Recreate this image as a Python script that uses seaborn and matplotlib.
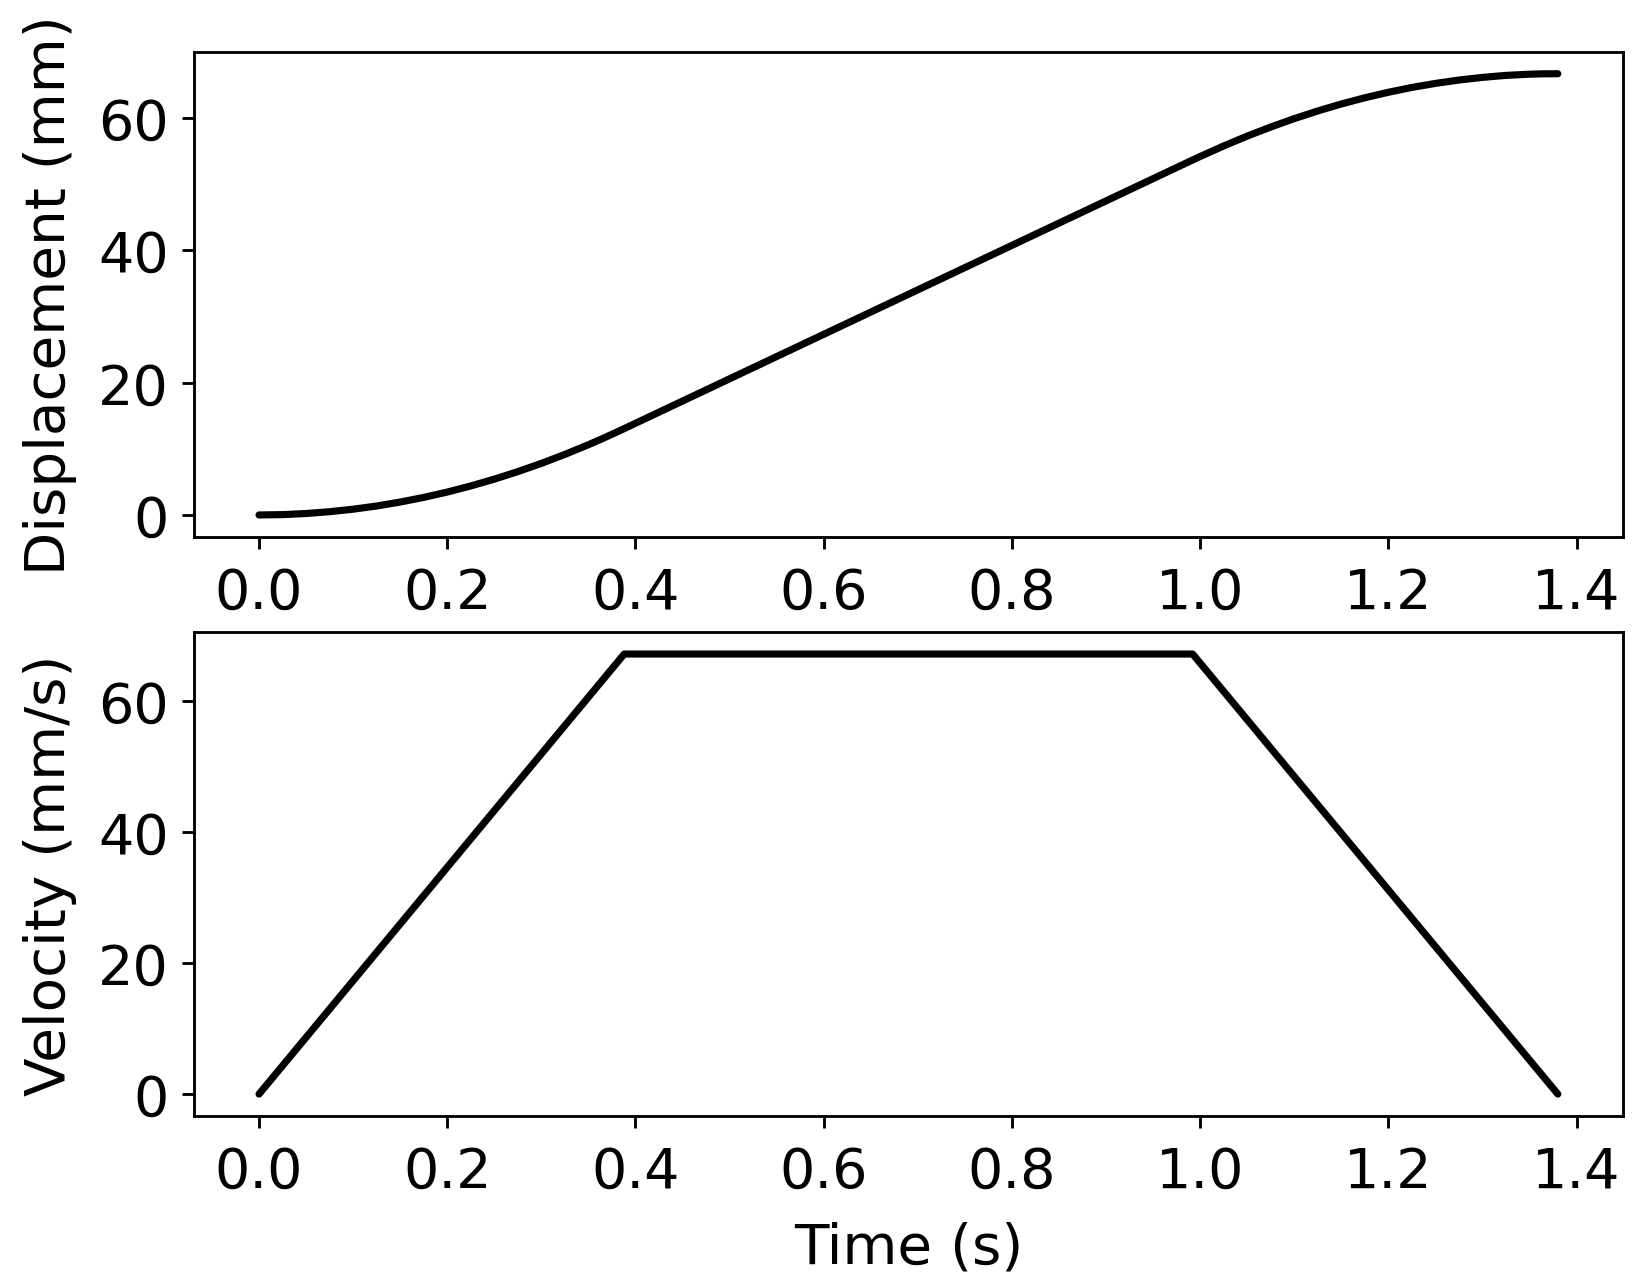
import numpy as np
import pandas as pd
import matplotlib
matplotlib.use("Agg")
import matplotlib.pyplot as plt
import seaborn as sns

# values
disp_time = [0.0, 0.025, 0.05, 0.075, 0.1, 0.125, 0.15, 0.175, 0.2, 0.225,
             0.25, 0.275, 0.3, 0.325, 0.35, 0.365, 0.388, 0.4, 0.45, 0.5,
             0.55, 0.6, 0.65, 0.7, 0.75, 0.8, 0.85, 0.9, 0.95, 0.992, 1.0,
             1.025, 1.05, 1.075, 1.1, 1.125, 1.15, 1.175, 1.2, 1.225, 1.25,
             1.275, 1.3, 1.325, 1.35, 1.365, 1.38]
displacement = [0.0, 0.05, 0.22, 0.49, 0.87, 1.35, 1.95, 2.65, 3.46, 4.38,
                5.41, 6.55, 7.79, 9.15, 10.61, 11.54, 13.04, 13.85, 17.21,
                20.57, 23.93, 27.29, 30.65, 34.01, 37.37, 40.73, 44.09, 47.45,
                50.81, 53.63, 54.16, 55.75, 57.24, 58.61, 59.88, 61.04, 62.09,
                63.03, 63.86, 64.59, 65.2, 65.71, 66.11, 66.41, 66.59, 66.65,
                66.66]

vel_time = [0.0, 0.388, 0.992, 1.38]
velocity = [0.0, 67.2, 67.2, 0.0]

x_ticks = [0.0, 0.2, 0.4, 0.6, 0.8, 1.0, 1.2, 1.4]
y_ticks = [0, 20, 40, 60]

df_disp = pd.DataFrame({"t": disp_time, "s": displacement})
df_vel = pd.DataFrame({"t": vel_time, "v": velocity})

sns.set_style("ticks")
plt.rcParams["font.family"] = ["DejaVu Sans"]
plt.rcParams["axes.edgecolor"] = "black"
plt.rcParams["axes.linewidth"] = 0.8
plt.rcParams["xtick.color"] = "black"
plt.rcParams["ytick.color"] = "black"
plt.rcParams["text.color"] = "black"
plt.rcParams["axes.labelcolor"] = "black"

fig = plt.figure(figsize=(6.4, 4.996), dpi=257)
ax1 = fig.add_axes([0.118, 0.581, 0.8686, 0.378])
ax2 = fig.add_axes([0.118, 0.130, 0.8686, 0.377])

sns.lineplot(data=df_disp, x="t", y="s", ax=ax1, color="black", linewidth=2.0)
sns.lineplot(data=df_vel, x="t", y="v", ax=ax2, color="black", linewidth=2.0)

for ax in (ax1, ax2):
    ax.set_xticks(x_ticks)
    ax.set_yticks(y_ticks)
    ax.tick_params(labelsize=15.6, length=3.5, width=0.8, color="black")
    ax.tick_params(axis="x", pad=4.5)
    for sp in ax.spines.values():
        sp.set_visible(True)
        sp.set_color("black")

ax1.set_xlabel("")
ax1.set_ylabel("Displacement (mm)", fontsize=15.8, labelpad=6)
ax2.set_xlabel("Time (s)", fontsize=15.8, labelpad=6)
ax2.set_ylabel("Velocity (mm/s)", fontsize=15.8, labelpad=6)

fig.savefig("out.png", dpi=257)
